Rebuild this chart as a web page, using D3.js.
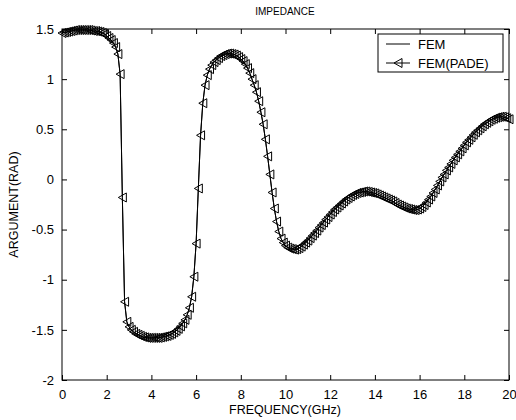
<!DOCTYPE html>
<head>
  <meta charset="utf-8">
  <script src="https://d3js.org/d3.v7.min.js"></script>
  <style>
    body { margin: 0; background: #fff; }
    text { font-family: "Liberation Sans", Arial, sans-serif; fill: #000; }
  </style>
</head>
<body>
  <script>
    // frequency samples, GHz (0 .. 20, step 0.1)
    var freq = d3.range(201).map(function(i) { return +(i * 0.1).toFixed(1); });

    // argument, rad
    var femArg = [
      1.46, 1.465, 1.47, 1.475, 1.48, 1.485, 1.49, 1.49, 1.49, 1.49,
      1.49, 1.49, 1.49, 1.485, 1.48, 1.48, 1.475, 1.47, 1.46, 1.45,
      1.43, 1.41, 1.39, 1.36, 1.32, 1.25, 1.05, -0.18, -1.22, -1.42,
      -1.47, -1.50, -1.52, -1.54, -1.55, -1.56, -1.57, -1.575, -1.58, -1.58,
      -1.58, -1.58, -1.58, -1.58, -1.575, -1.57, -1.565, -1.56, -1.55, -1.54,
      -1.525, -1.51, -1.49, -1.465, -1.435, -1.40, -1.35, -1.28, -1.17, -0.97,
      -0.64, -0.09, 0.44, 0.76, 0.94, 1.04, 1.10, 1.14, 1.17, 1.19,
      1.21, 1.23, 1.24, 1.25, 1.255, 1.255, 1.25, 1.245, 1.235, 1.22,
      1.20, 1.18, 1.15, 1.11, 1.06, 1.00, 0.94, 0.87, 0.78, 0.67,
      0.55, 0.40, 0.23, 0.05, -0.13, -0.29, -0.42, -0.52, -0.59, -0.63,
      -0.66, -0.68, -0.69, -0.695, -0.70, -0.695, -0.685, -0.67, -0.65, -0.63,
      -0.61, -0.585, -0.56, -0.535, -0.51, -0.48, -0.455, -0.43, -0.40, -0.375,
      -0.35, -0.325, -0.30, -0.28, -0.26, -0.24, -0.22, -0.20, -0.185, -0.17,
      -0.155, -0.145, -0.135, -0.13, -0.125, -0.12, -0.12, -0.125, -0.13, -0.135,
      -0.14, -0.15, -0.16, -0.17, -0.18, -0.19, -0.20, -0.21, -0.22, -0.235,
      -0.25, -0.26, -0.27, -0.28, -0.29, -0.295, -0.30, -0.305, -0.305, -0.30,
      -0.29, -0.275, -0.255, -0.23, -0.20, -0.17, -0.135, -0.10, -0.06, -0.02,
      0.02, 0.05, 0.09, 0.12, 0.155, 0.19, 0.22, 0.25, 0.28, 0.31,
      0.34, 0.37, 0.395, 0.42, 0.445, 0.47, 0.49, 0.51, 0.53, 0.55,
      0.565, 0.58, 0.595, 0.605, 0.615, 0.62, 0.625, 0.625, 0.62, 0.61,
      0.60
    ];
    // the Pade curve lies on top of the FEM curve
    var padeArg = femArg.slice();

    var xTicks = d3.range(0, 21, 2);
    var yTicks = [-2, -1.5, -1, -0.5, 0, 0.5, 1, 1.5];
    var legendNames = ["FEM", "FEM(PADE)"];

    var width = 516, height = 420;
    var plot = { left: 62, right: 509, top: 29, bottom: 380 };

    var svg = d3.select("body").append("svg")
      .attr("width", width)
      .attr("height", height);

    var x = d3.scaleLinear().domain([0, 20]).range([plot.left, plot.right]);
    var y = d3.scaleLinear().domain([-2, 1.5]).range([plot.bottom, plot.top]);

    // plain hyphen for negatives, like matlab
    var fmt = function(d) { return String(d); };

    // frame
    svg.append("rect")
      .attr("x", plot.left).attr("y", plot.top)
      .attr("width", plot.right - plot.left)
      .attr("height", plot.bottom - plot.top)
      .attr("fill", "none").attr("stroke", "#000").attr("stroke-width", 1);

    // axes, ticks pointing in
    function styleAxis(g) {
      g.select(".domain").remove();
      g.selectAll("line").attr("stroke", "#000");
      g.selectAll("text").style("font-size", "13px");
    }
    svg.append("g").attr("transform", "translate(0," + plot.bottom + ")")
      .call(d3.axisBottom(x).tickValues(xTicks).tickSizeInner(-5).tickPadding(10).tickFormat(fmt))
      .call(styleAxis);
    svg.append("g").attr("transform", "translate(0," + plot.top + ")")
      .call(d3.axisTop(x).tickValues(xTicks).tickSizeInner(-5).tickFormat(""))
      .call(styleAxis);
    svg.append("g").attr("transform", "translate(" + plot.left + ",0)")
      .call(d3.axisLeft(y).tickValues(yTicks).tickSizeInner(-5).tickPadding(8).tickFormat(fmt))
      .call(styleAxis);
    svg.append("g").attr("transform", "translate(" + plot.right + ",0)")
      .call(d3.axisRight(y).tickValues(yTicks).tickSizeInner(-5).tickFormat(""))
      .call(styleAxis);

    var line = d3.line()
      .x(function(d, i) { return x(freq[i]); })
      .y(function(d) { return y(d); });

    // FEM solid line
    svg.append("path").datum(femArg)
      .attr("d", line)
      .attr("fill", "none").attr("stroke", "#000").attr("stroke-width", 1);

    // Pade line with left triangles
    svg.append("path").datum(padeArg)
      .attr("d", line)
      .attr("fill", "none").attr("stroke", "#000").attr("stroke-width", 1);

    var tri = "M-4,0L4,-4.5L4,4.5Z";
    svg.append("g").selectAll("path")
      .data(padeArg).enter().append("path")
      .attr("d", tri)
      .attr("transform", function(d, i) { return "translate(" + x(freq[i]) + "," + y(d) + ")"; })
      .attr("fill", "none").attr("stroke", "#000").attr("stroke-width", 1);

    // titles
    svg.append("text").attr("x", 285).attr("y", 15)
      .attr("text-anchor", "middle").style("font-size", "10px").text("IMPEDANCE");
    svg.append("text").attr("x", 285).attr("y", 414)
      .attr("text-anchor", "middle").style("font-size", "12.5px").text("FREQUENCY(GHz)");
    svg.append("text")
      .attr("transform", "translate(18," + ((plot.top + plot.bottom) / 2) + ") rotate(-90)")
      .attr("text-anchor", "middle").style("font-size", "12.5px").text("ARGUMENT(RAD)");

    // legend
    var lg = svg.append("g").attr("transform", "translate(378,34)");
    lg.append("rect").attr("width", 125).attr("height", 38)
      .attr("fill", "#fff").attr("stroke", "#000").attr("stroke-width", 1);
    var rows = lg.selectAll("g.row").data(legendNames).enter().append("g")
      .attr("transform", function(d, i) { return "translate(0," + (10 + i * 19) + ")"; });
    rows.append("line").attr("x1", 8).attr("x2", 32)
      .attr("stroke", "#000").attr("stroke-width", 1);
    rows.filter(function(d, i) { return i === 1; }).append("path")
      .attr("d", tri).attr("transform", "translate(20,0)")
      .attr("fill", "none").attr("stroke", "#000");
    rows.append("text").attr("x", 40).attr("dy", "0.35em")
      .style("font-size", "13px").text(function(d) { return d; });
  </script>
</body>
